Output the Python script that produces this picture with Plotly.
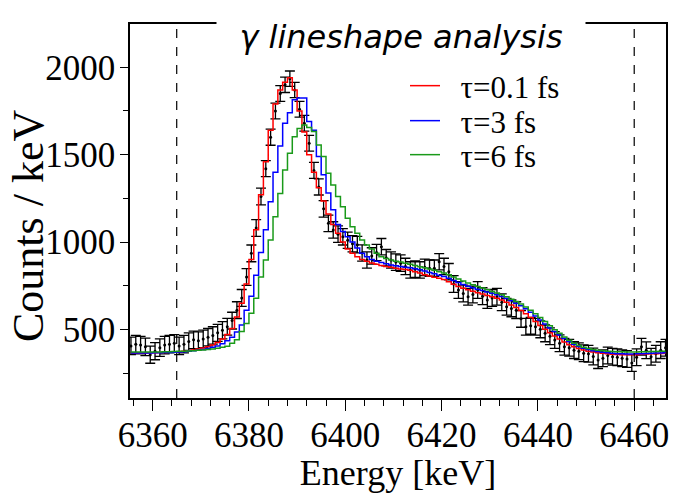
import plotly.graph_objects as go

# ---------------- data ----------------
bin_start = 6355.5   # centre of first 1 keV bin
bin_width = 1.0

counts_data = [
    405, 415, 410, 400, 355, 375, 395, 410, 415, 420,
    405, 415, 430, 440, 435, 445, 455, 465, 480, 495,
    515, 550, 610, 680, 800, 935, 1080, 1260, 1420, 1600,
    1750, 1850, 1900, 1935, 1870, 1760, 1680, 1565, 1410, 1315,
    1190, 1107, 1069, 1045, 1030, 1010, 990, 985, 937, 897,
    920, 940, 973, 910, 897, 885, 879, 860, 840, 845,
    840, 855, 850, 850, 887, 860, 830, 760, 725, 705,
    687, 700, 725, 690, 668, 680, 687, 655, 629, 620,
    610, 560, 515, 520, 515, 500, 477, 460, 439, 420,
    400, 395, 381, 375, 363, 360, 345, 324, 335, 350,
    343, 340, 335, 330, 307, 340, 400, 380, 343, 360,
    381, 395,
]
errors_data = [
    50, 50, 50, 50, 49, 49, 50, 50, 50, 50,
    50, 50, 50, 50, 50, 50, 50, 50, 49, 49,
    48, 48, 48, 48, 48, 48, 48, 48, 46, 46,
    45, 45, 44, 44, 44, 45, 45, 45, 46, 46,
    47, 47, 47, 47, 47, 47, 47, 47, 47, 47,
    47, 47, 47, 47, 47, 47, 47, 47, 47, 47,
    47, 47, 47, 47, 47, 47, 47, 48, 48, 48,
    48, 48, 48, 48, 48, 48, 48, 48, 48, 48,
    48, 48, 48, 48, 48, 48, 48, 48, 48, 48,
    48, 48, 48, 48, 48, 48, 48, 48, 48, 48,
    48, 48, 48, 48, 48, 48, 48, 48, 48, 48,
    48, 48,
]
sim_tau_01 = [
    365, 365, 365, 365, 366, 366, 367, 368, 369, 370,
    372, 375, 378, 382, 387, 393, 400, 410, 425, 445,
    470, 505, 570, 650, 760, 900, 1070, 1270, 1460, 1640,
    1790, 1870, 1915, 1940, 1870, 1750, 1630, 1500, 1400, 1310,
    1235, 1160, 1100, 1050, 1000, 960, 935, 915, 900, 890,
    880, 872, 866, 860, 855, 850, 846, 842, 838, 830,
    822, 812, 805, 798, 792, 785, 772, 758, 745, 735,
    726, 718, 710, 702, 694, 686, 678, 668, 655, 640,
    625, 608, 590, 568, 545, 522, 500, 480, 462, 445,
    428, 412, 400, 390, 382, 375, 370, 366, 363, 360,
    358, 356, 355, 354, 354, 355, 357, 359, 360, 361,
    362, 363,
]
sim_tau_3 = [
    365, 365, 365, 365, 365, 366, 366, 367, 368, 369,
    370, 372, 374, 377, 381, 385, 390, 397, 405, 418,
    435, 455, 485, 525, 610, 690, 810, 940, 1070, 1230,
    1400, 1550, 1680, 1740, 1815, 1825, 1825, 1690, 1640, 1490,
    1385, 1280, 1185, 1100, 1060, 1030, 1000, 965, 935, 915,
    900, 890, 882, 875, 869, 864, 860, 856, 852, 847,
    841, 834, 826, 818, 810, 802, 792, 780, 768, 757,
    747, 738, 730, 722, 714, 706, 698, 688, 677, 664,
    650, 635, 618, 598, 576, 553, 530, 508, 487, 467,
    448, 430, 415, 402, 392, 384, 378, 373, 369, 366,
    363, 361, 360, 359, 359, 360, 361, 362, 363, 364,
    365, 366,
]
sim_tau_6 = [
    370, 370, 370, 370, 370, 371, 371, 372, 372, 373,
    374, 375, 376, 378, 380, 382, 385, 388, 392, 397,
    403, 420, 440, 487, 534, 592, 678, 800, 897, 1012,
    1145, 1278, 1412, 1508, 1603, 1650, 1670, 1655, 1632, 1556,
    1489, 1393, 1327, 1260, 1202, 1136, 1088, 1050, 1012, 983,
    960, 935, 916, 905, 897, 890, 885, 878, 872, 866,
    859, 852, 845, 838, 830, 822, 812, 800, 788, 777,
    766, 756, 746, 736, 726, 717, 708, 698, 686, 673,
    659, 645, 628, 610, 590, 568, 545, 521, 498, 477,
    456, 437, 421, 408, 398, 390, 384, 380, 377, 375,
    373, 372, 372, 371, 371, 371, 372, 372, 373, 373,
    374, 374,
]
series_names = ["τ=0.1 fs", "τ=3 fs", "τ=6 fs"]
series_colors = ["#ff0000", "#0000ff", "#1a9a1a"]
fit_window = [6365, 6460]
x_tick_values = [6360, 6380, 6400, 6420, 6440, 6460]
y_tick_values = [500, 1000, 1500, 2000]

energy = [bin_start + i * bin_width for i in range(len(counts_data))]

# ---------------- figure ----------------
fig = go.Figure()

fig.add_trace(go.Scatter(
    x=energy, y=counts_data, mode="markers", showlegend=False,
    marker=dict(color="black", size=3),
    error_y=dict(type="data", array=errors_data, visible=True,
                 color="black", thickness=1.3, width=5),
))

legend_ids = ["legend", "legend2", "legend3"]
for name, color, vals, lid in zip(series_names, series_colors,
                                  [sim_tau_01, sim_tau_3, sim_tau_6], legend_ids):
    fig.add_trace(go.Scatter(
        x=energy, y=vals, mode="lines", line_shape="hvh",
        name="\u00a0\u00a0" + name, legend=lid,
        line=dict(color=color, width=1.5),
    ))

for xv in fit_window:
    fig.add_shape(type="line", xref="x", yref="paper", x0=xv, x1=xv,
                  y0=0, y1=1, line=dict(color="black", width=1.2, dash="dash"))

serif = "Liberation Serif, Times New Roman, serif"

def legend_box(row):
    # row centres at 86, 121, 155 px from the top (plot top = 24 px, height 374 px)
    centre_px = [86, 121, 155][row]
    return dict(x=(405 - 130) / 536, y=1 - (centre_px - 24) / 374,
                xanchor="left", yanchor="middle",
                font=dict(family=serif, size=31, color="black"),
                bgcolor="rgba(0,0,0,0)", borderwidth=0)

fig.update_layout(
    width=673, height=493,
    margin=dict(l=130, r=7, t=24, b=95),
    paper_bgcolor="white", plot_bgcolor="white",
    font=dict(family=serif, color="black"),
    legend=legend_box(0), legend2=legend_box(1), legend3=legend_box(2),
    annotations=[
        dict(text="<i>γ lineshape analysis</i>", xref="paper", yref="paper",
             x=0.5056, y=0.966, xanchor="center", yanchor="middle",
             showarrow=False, bgcolor="white", width=366, height=44,
             font=dict(family="DejaVu Sans", size=32, color="black")),
        # y-axis title, placed where the reference shows it
        dict(text="Counts / keV", xref="paper", yref="paper",
             x=(28 - 130) / 536, y=1 - (226 - 24) / 374,
             xanchor="center", yanchor="middle", textangle=-90,
             showarrow=False,
             font=dict(family=serif, size=44, color="black")),
    ],
)

fig.update_xaxes(
    range=[6355.3, 6466.6], showgrid=False, zeroline=False, automargin=False,
    showline=True, mirror=True, linecolor="black", linewidth=1.5,
    ticks="outside", ticklen=11, tickwidth=1.3, tickcolor="black",
    tickvals=x_tick_values, ticklabelstandoff=-6,
    tickfont=dict(family=serif, size=35, color="black"),
    minor=dict(ticks="outside", ticklen=6, tickwidth=1, dtick=4,
               tick0=6360, tickcolor="black", showgrid=False),
    title=dict(text="Energy [keV]", font=dict(family=serif, size=36),
               standoff=8),
)
fig.update_yaxes(
    range=[107, 2248], showgrid=False, zeroline=False, automargin=False,
    showline=True, mirror=True, linecolor="black", linewidth=1.5,
    ticks="outside", ticklen=8, tickwidth=1.3, tickcolor="black",
    tickvals=y_tick_values, ticklabelstandoff=-2,
    tickfont=dict(family=serif, size=35, color="black"),
    minor=dict(ticks="outside", ticklen=5, tickwidth=1, dtick=250,
               tick0=0, tickcolor="black", showgrid=False),
)

fig.write_html(
    "out.html",
    config={"displayModeBar": False},
    post_script="document.body.style.margin='0';document.body.style.overflow='hidden';",
)
